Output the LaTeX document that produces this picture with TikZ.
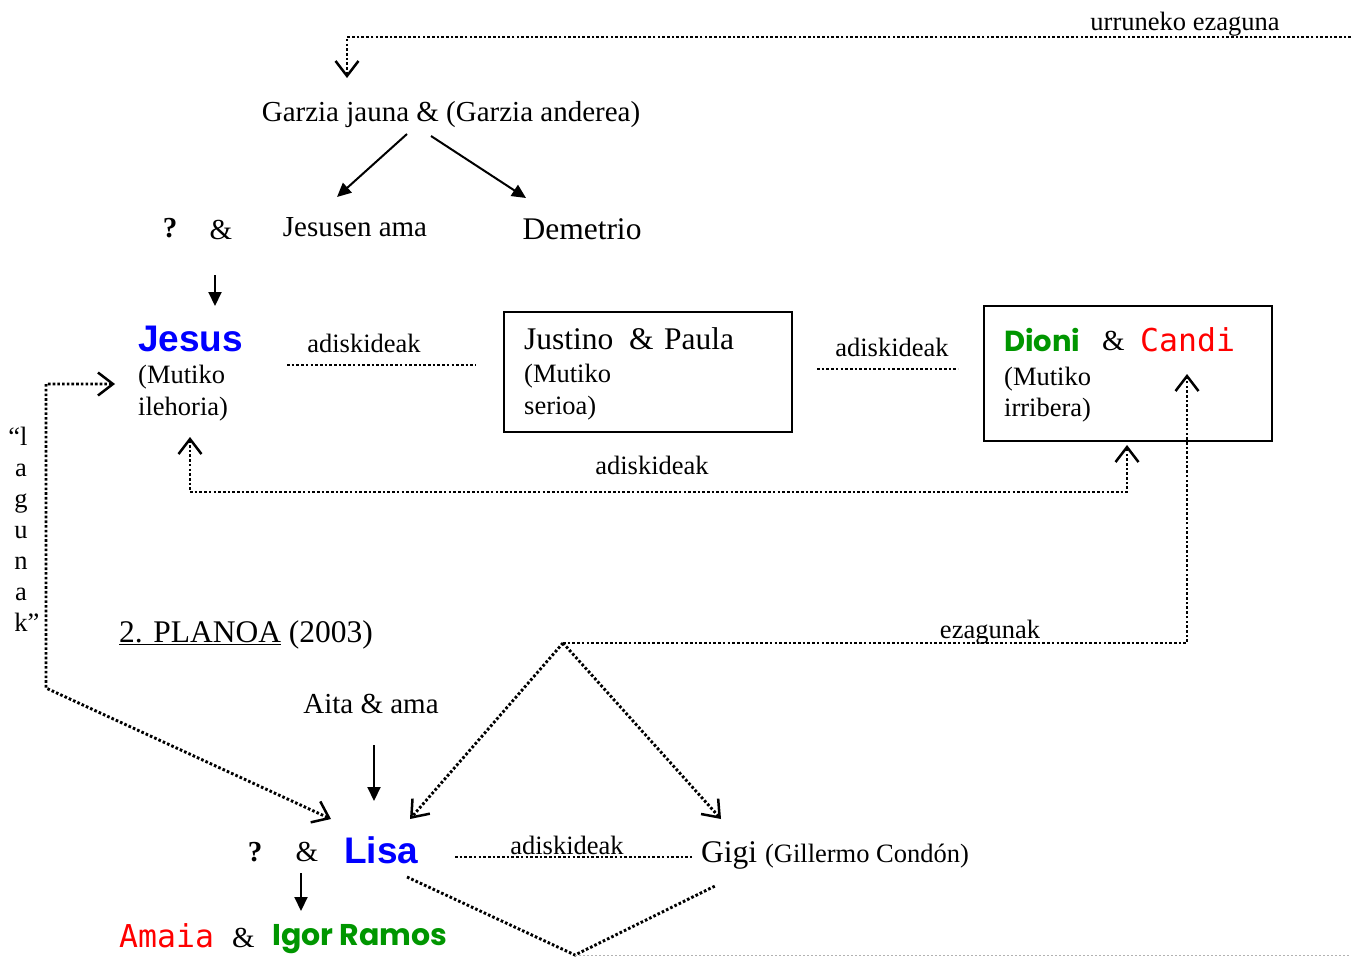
\documentclass[tikz,border=0pt]{standalone}
\usepackage{fontspec}
\setmainfont{Liberation Serif}
\newfontfamily\arialf{Liberation Sans}
\newfontfamily\comicf{Poppins}
\newfontfamily\monof{DejaVu Sans Mono}
\usetikzlibrary{arrows.meta}
\definecolor{jblue}{RGB}{0,0,255}
\definecolor{jgreen}{RGB}{0,150,0}
\definecolor{jred}{RGB}{255,0,0}
\newcommand\myfs[1]{\fontsize{#1}{#1}\selectfont}
\tikzset{
  sm/.style={font=\myfs{26.5}, inner sep=0pt},
  md/.style={font=\myfs{29}, inner sep=0pt},
  lg/.style={font=\myfs{31.5}, inner sep=0pt},
  bluename/.style={font=\arialf\bfseries\myfs{37}, text=jblue, inner sep=0pt},
  greenname/.style={font=\comicf\bfseries\myfs{29}, text=jgreen, inner sep=0pt},
  redname/.style={font=\monof\myfs{31.5}, text=jred, inner sep=0pt},
  dotline/.style={line width=2.9pt, dash pattern=on 2.6pt off 2.1pt},
  barb/.tip={Straight Barb[length=15pt,width=23pt,line width=2.5pt]},
  openarrow/.style={dotline, -barb},
  openboth/.style={dotline, barb-barb},
  solidarrow/.style={line width=2pt, -{Triangle[length=14pt,width=13pt]}},
  boxed/.style={draw, line width=1.8pt, anchor=north west, inner sep=0pt},
}
\begin{document}
\begin{tikzpicture}[x=1pt,y=-1pt]
\useasboundingbox (0,0) rectangle (1351,956);

% top
\node[sm, anchor=base] (urr) at (1185,30) {urruneko ezaguna};
\coordinate (tR) at (1351,37);
\coordinate (tL) at (347,37);
\coordinate (tEnd) at (347,78);
\draw[openarrow] (tR) -- (tL) -- (tEnd);

\node[md, anchor=base] (garzia) at (451,121) {Garzia jauna \& (Garzia anderea)};
\coordinate (g1s) at (407,134); \coordinate (g1e) at (337,197);
\coordinate (g2s) at (431,136); \coordinate (g2e) at (526,198);
\draw[solidarrow] (g1s) -- (g1e);
\draw[solidarrow] (g2s) -- (g2e);

\node[md, anchor=base, font=\bfseries\myfs{29}] (q1) at (170,237) {?};
\node[md, anchor=base] (amp1) at (221,239) {\&};
\node[md, anchor=base] (jama) at (355,236) {Jesusen ama};
\node[lg, anchor=base] (demetrio) at (582,239) {Demetrio};
\coordinate (a1s) at (215,275); \coordinate (a1e) at (215,306);
\draw[solidarrow] (a1s) -- (a1e);

% Jesus
\node[bluename, anchor=base west] (jesus) at (138,351) {Jesus};
\node[sm, anchor=base west] (jm1) at (138,383) {(Mutiko};
\node[sm, anchor=base west] (jm2) at (138,415) {ilehoria)};

\node[sm, anchor=base] (adi1) at (364,352) {adiskideak};
\coordinate (l1a) at (287,365); \coordinate (l1b) at (476,365);
\draw[dotline] (l1a) -- (l1b);

% box 1
\node[boxed, minimum width=288pt, minimum height=120pt] (box1) at (503,311) {};
\node[lg, anchor=base west] (justino) at (524,349) {Justino};
\node[lg, anchor=base west] (amp2) at (629,349) {\&};
\node[lg, anchor=base west] (paula) at (664,349) {Paula};
\node[sm, anchor=base west] (bm1) at (524,382) {(Mutiko};
\node[sm, anchor=base west] (bm2) at (524,414) {serioa)};

\node[sm, anchor=base] (adi2) at (892,356) {adiskideak};
\coordinate (l2a) at (817,369); \coordinate (l2b) at (958,369);
\draw[dotline] (l2a) -- (l2b);

% box 2
\node[boxed, minimum width=288pt, minimum height=135pt] (box2) at (983,305) {};
\node[greenname, anchor=base west] (dioni) at (1004,351) {Dioni};
\node[md, anchor=base west] (amp3) at (1102,350) {\&};
\node[redname, anchor=base west] (candi) at (1140,351) {Candi};
\node[sm, anchor=base west] (dm1) at (1004,385) {(Mutiko};
\node[sm, anchor=base west] (dm2) at (1004,416) {irribera)};

% Jesus <-> Dioni
\coordinate (jb) at (190,437); \coordinate (jbd) at (190,492);
\coordinate (db) at (1127,445); \coordinate (dbd) at (1127,492);
\draw[openboth] (jb) -- (jbd) -- (dbd) -- (db);
\node[sm, anchor=base] (adi3) at (652,474) {adiskideak};

% lagunak
\node[sm, anchor=base] (lg1) at (18,445) {“l};
\node[sm, anchor=base] (lg2) at (21,476) {a};
\node[sm, anchor=base] (lg3) at (21,507) {g};
\node[sm, anchor=base] (lg4) at (21,538) {u};
\node[sm, anchor=base] (lg5) at (21,569) {n};
\node[sm, anchor=base] (lg6) at (21,600) {a};
\node[sm, anchor=base] (lg7) at (27,631) {k”};
\coordinate (jl) at (115,384); \coordinate (jlc) at (46,384);
\coordinate (llc) at (46,688); \coordinate (lisaL) at (331,819);
\draw[openboth] (jl) -- (jlc) -- (llc) -- (lisaL);

% plane 2
\node[lg, anchor=base west] (planoa) at (119,642) {\underline{2. PLANOA} (2003)};

% ezagunak
\coordinate (cv) at (1187,374); \coordinate (cvd) at (1187,643);
\coordinate (apex) at (563,643);
\coordinate (lisaR) at (410,819); \coordinate (gigiT) at (721,819);
\draw[openarrow] (apex) -- (cvd) -- (cv);
\draw[openarrow] (apex) -- (lisaR);
\draw[openarrow] (apex) -- (gigiT);
\node[sm, anchor=base] (ezag) at (990,638) {ezagunak};

\node[md, anchor=base] (aita) at (371,713) {Aita \& ama};
\coordinate (a2s) at (374,745); \coordinate (a2e) at (374,801);
\draw[solidarrow] (a2s) -- (a2e);

\node[md, anchor=base, font=\bfseries\myfs{29}] (q2) at (255,861) {?};
\node[md, anchor=base] (amp4) at (307,861) {\&};
\node[bluename, anchor=base west] (lisa) at (344,863) {Lisa};
\coordinate (a3s) at (301,873); \coordinate (a3e) at (301,911);
\draw[solidarrow] (a3s) -- (a3e);

\node[sm, anchor=base] (adi4) at (567,854) {adiskideak};
\coordinate (l4a) at (455,857); \coordinate (l4b) at (692,857);
\draw[dotline] (l4a) -- (l4b);
\node[lg, anchor=base west] (gigi) at (701,862) {Gigi \myfs{26.5}(Gillermo Condón)};

\node[redname, anchor=base west] (amaia) at (119,947) {Amaia};
\node[md, anchor=base west] (amp5) at (232,947) {\&};
\node[greenname, anchor=base west, font=\comicf\bfseries\myfs{30}] (igor) at (272,945) {Igor Ramos};

\coordinate (v1) at (407,877); \coordinate (v2) at (575,955); \coordinate (v3) at (715,886);
\draw[dotline] (v1) -- (v2) -- (v3);
\coordinate (p1) at (575,955); \coordinate (p2) at (1351,955);
\draw[gray!60, line width=0.8pt, dash pattern=on 2pt off 2pt] (p1) -- (p2);
\end{tikzpicture}
\end{document}
